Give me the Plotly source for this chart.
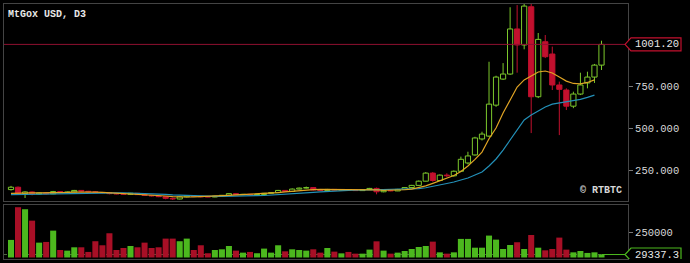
import plotly.graph_objects as go

# ---------------- data ----------------
idx = list(range(85))
opens = [138, 152, 114, 124, 112, 118, 113, 126, 121, 124,
         133, 128, 125, 121, 119, 114, 112, 110, 116, 108,
         103, 100, 96, 86, 82, 95, 101, 98, 95, 94,
         99, 104, 114, 108, 110, 106, 109, 116, 120, 133,
         127, 141, 147, 150, 136, 133, 139, 135, 138, 135,
         132, 138, 145, 125, 133, 130, 139, 150, 163, 188,
         236, 192, 224, 220, 247, 296, 344, 439, 456, 640,
         795, 825, 1093, 998, 1225, 690, 1017, 944, 760, 730,
         634, 706, 772, 807, 878]
highs = [160, 156, 128, 127, 122, 121, 130, 128, 126, 136,
         135, 130, 128, 124, 121, 117, 115, 118, 117, 111,
         106, 102, 98, 90, 98, 104, 103, 100, 97, 101,
         106, 116, 116, 112, 112, 110, 118, 122, 136, 135,
         145, 150, 156, 153, 138, 142, 141, 140, 139, 136,
         140, 148, 150, 136, 135, 142, 152, 166, 192, 242,
         242, 228, 235, 252, 334, 363, 452, 482, 898, 815,
         890, 1222, 1235, 1250, 1250, 1069, 1057, 988, 780, 740,
         720, 833, 839, 885, 1023]
lows = [132, 108, 88, 104, 108, 110, 111, 118, 119, 122,
        124, 122, 118, 116, 110, 110, 107, 108, 106, 100,
        97, 93, 80, 76, 80, 92, 96, 92, 93, 93,
        98, 103, 106, 107, 104, 105, 108, 115, 118, 124,
        126, 139, 145, 132, 131, 131, 133, 134, 133, 130,
        131, 137, 110, 122, 128, 129, 138, 149, 161, 186,
        185, 188, 212, 215, 242, 288, 340, 430, 450, 630,
        790, 820, 833, 972, 474, 682, 920, 730, 462, 611,
        622, 700, 740, 772, 849]
closes = [152, 114, 124, 112, 118, 113, 126, 121, 124, 133,
          128, 125, 121, 119, 114, 112, 110, 116, 108, 103,
          100, 96, 86, 82, 95, 101, 98, 95, 94, 99,
          104, 114, 108, 110, 106, 109, 116, 120, 133, 127,
          141, 147, 150, 136, 133, 139, 135, 138, 135, 132,
          138, 145, 125, 133, 130, 139, 150, 163, 188, 236,
          192, 224, 220, 247, 318, 338, 445, 468, 646, 807,
          825, 1093, 998, 1229, 690, 1031, 928, 760, 734, 634,
          706, 760, 807, 878, 1001.2]
volumes = [174000, 498000, 478000, 365000, 147000, 154000, 266000, 74000, 68000, 101000,
           101000, 55000, 161000, 121000, 240000, 74000, 94000, 114000, 101000, 147000,
           94000, 101000, 187000, 187000, 161000, 187000, 74000, 121000, 42000, 74000,
           81000, 114000, 68000, 48000, 55000, 42000, 88000, 48000, 121000, 61000,
           81000, 74000, 68000, 81000, 48000, 94000, 58000, 41000, 55000, 38000,
           38000, 78000, 160000, 68000, 38000, 48000, 64000, 84000, 104000, 114000,
           157000, 51000, 38000, 51000, 184000, 184000, 97000, 97000, 217000, 177000,
           84000, 124000, 151000, 84000, 223000, 97000, 71000, 84000, 197000, 78000,
           51000, 64000, 45000, 51000, 29337.3]
ma_fast = [116, 118, 119, 119, 118, 118, 119, 120, 121, 123,
           124, 124, 123, 122, 120, 117, 115, 113, 112, 110,
           107, 104, 100, 96, 94, 94, 95, 96, 97, 99,
           101, 104, 106, 108, 109, 111, 113, 116, 120, 124,
           128, 132, 136, 138, 139, 139, 138, 137, 137, 136,
           136, 137, 136, 134, 134, 134, 137, 141, 149, 160,
           175, 190, 205, 222, 245, 278, 318, 361, 440, 504,
           593, 670, 748, 790, 813, 837, 843, 831, 807, 783,
           769, 766, 775, 790, None]
ma_slow = [108, 109, 110, 111, 112, 113, 114, 115, 116, 117,
           118, 119, 120, 120, 120, 119, 119, 118, 117, 116,
           114, 112, 109, 106, 104, 102, 101, 100, 99, 98,
           98, 98, 99, 100, 101, 102, 103, 105, 107, 109,
           112, 115, 118, 121, 124, 127, 129, 131, 133, 134,
           135, 136, 137, 137, 137, 138, 139, 141, 144, 149,
           156, 165, 174, 183, 195, 207, 225, 243, 278, 320,
           373, 433, 498, 552, 581, 605, 629, 646, 653, 662,
           668, 674, 686, 700, None]
price_ticks = [250, 500, 750]
vol_ticks = [250000]
title_text = "MtGox USD, D3"
watermark_text = "© RTBTC"

# ---------------- styling ----------------
GREEN = "#7cc82c"
RED = "#c2102e"
VGREEN = "#4cb81e"
VRED = "#a80f26"
YEL = "#e0a424"
BLUE = "#2390b8"
BORDER = "#444444"
TXT = "#d8d8d8"
FONT = "Liberation Mono"

up = [c >= o for o, c in zip(opens, closes)]


def wicks(mask):
    xs, ys = [], []
    for i in idx:
        if mask[i]:
            top = max(opens[i], closes[i])
            bot = min(opens[i], closes[i])
            xs += [i, i, None, i, i, None]
            ys += [highs[i], top, None, bot, lows[i], None]
    return xs, ys


def bodies(mask):
    xs, bases, hs = [], [], []
    for i in idx:
        if mask[i]:
            xs.append(i)
            bases.append(min(opens[i], closes[i]))
            hs.append(max(abs(closes[i] - opens[i]), 1.5))
    return xs, bases, hs


fig = go.Figure()

gx, gy = wicks(up)
rx, ry = wicks([not u for u in up])
fig.add_trace(go.Scatter(x=gx, y=gy, mode="lines", line=dict(color=GREEN, width=1),
                         hoverinfo="skip", showlegend=False, xaxis="x", yaxis="y"))
fig.add_trace(go.Scatter(x=rx, y=ry, mode="lines", line=dict(color=RED, width=1),
                         hoverinfo="skip", showlegend=False, xaxis="x", yaxis="y"))

bx, bb, bh = bodies(up)
fig.add_trace(go.Bar(x=bx, y=bh, base=bb, width=0.74,
                     marker=dict(color="#000000", line=dict(color=GREEN, width=1)),
                     showlegend=False, xaxis="x", yaxis="y"))
bx, bb, bh = bodies([not u for u in up])
fig.add_trace(go.Bar(x=bx, y=bh, base=bb, width=0.74,
                     marker=dict(color=RED, line=dict(color=RED, width=1)),
                     showlegend=False, xaxis="x", yaxis="y"))

fig.add_trace(go.Scatter(x=idx, y=ma_slow, mode="lines", line=dict(color=BLUE, width=1.2),
                         showlegend=False, xaxis="x", yaxis="y"))
fig.add_trace(go.Scatter(x=idx, y=ma_fast, mode="lines", line=dict(color=YEL, width=1.2),
                         showlegend=False, xaxis="x", yaxis="y"))

vg_x = [i for i in idx if up[i]]
vr_x = [i for i in idx if not up[i]]
fig.add_trace(go.Bar(x=vg_x, y=[volumes[i] for i in vg_x], width=0.86,
                     marker=dict(color=VGREEN, line=dict(width=0)),
                     showlegend=False, xaxis="x2", yaxis="y2"))
fig.add_trace(go.Bar(x=vr_x, y=[volumes[i] for i in vr_x], width=0.86,
                     marker=dict(color=VRED, line=dict(width=0)),
                     showlegend=False, xaxis="x2", yaxis="y2"))

last_close = closes[-1]
last_vol = volumes[-1]
x_range = [-0.996, 87.77]

axis_common = dict(showgrid=False, zeroline=False, showline=True, mirror=True,
                   linecolor=BORDER, linewidth=1)

fig.update_layout(
    width=690, height=263,
    margin=dict(l=4, r=62, t=4, b=4),
    paper_bgcolor="#000000", plot_bgcolor="#000000",
    barmode="overlay",
    showlegend=False,
    xaxis=dict(domain=[0, 1], range=x_range, anchor="y", showticklabels=False,
               ticks="", **axis_common),
    yaxis=dict(domain=[0.2286, 1], range=[71.9, 1241.4], side="right", anchor="x",
               tickvals=price_ticks, tickformat=".3f", ticks="outside", ticklen=4,
               tickcolor="#777777", tickfont=dict(family=FONT, size=10.5, color=TXT),
               **axis_common),
    xaxis2=dict(domain=[0, 1], range=x_range, anchor="y2", matches="x",
                showticklabels=False, ticks="", **axis_common),
    yaxis2=dict(domain=[0, 0.2118], range=[-15000, 520000], side="right", anchor="x2",
                tickvals=vol_ticks, tickformat="d", ticks="outside", ticklen=4,
                tickcolor="#777777", tickfont=dict(family=FONT, size=10.5, color=TXT),
                **axis_common),
)

shapes = [
    # last price line
    dict(type="line", xref="paper", x0=0, x1=1, yref="y", y0=last_close, y1=last_close,
         line=dict(color="#8e1030", width=1), layer="above"),
    # last price box
    dict(type="path", xref="paper", xanchor=1, xsizemode="pixel",
         yref="y", yanchor=last_close, ysizemode="pixel",
         path="M -3,0 L 3,-6.5 L 53,-6.5 L 53,6.5 L 3,6.5 Z",
         line=dict(color=RED, width=1.2), fillcolor="#000000", layer="above"),
    # last volume dotted level
    dict(type="line", xref="paper", x0=0, x1=1, yref="y2", y0=last_vol, y1=last_vol,
         line=dict(color="#4f6a40", width=1, dash="dot"), layer="below"),
    # connector from last bar
    dict(type="line", xref="x2", x0=idx[-1], x1=x_range[1], yref="y2", y0=last_vol, y1=last_vol,
         line=dict(color=VGREEN, width=1), layer="above"),
    # last volume box
    dict(type="path", xref="paper", xanchor=1, xsizemode="pixel",
         yref="y2", yanchor=last_vol, ysizemode="pixel",
         path="M -3,0 L 3,-6.5 L 53,-6.5 L 53,6.5 L 3,6.5 Z",
         line=dict(color=VGREEN, width=1.2), fillcolor="#000000", layer="above"),
]
fig.update_layout(shapes=shapes)

annotations = [
    dict(xref="paper", x=1, xanchor="left", xshift=5, yref="y", y=last_close, yanchor="middle",
         text=f"{last_close:.2f}", showarrow=False,
         font=dict(family=FONT, size=10.5, color="#e8e8e8")),
    dict(xref="paper", x=1, xanchor="left", xshift=5, yref="y2", y=last_vol, yanchor="middle",
         text=f"{last_vol:.1f}", showarrow=False,
         font=dict(family=FONT, size=10.5, color="#e8e8e8")),
    dict(xref="paper", x=0, xanchor="left", xshift=2, yref="paper", y=1, yanchor="top", yshift=-3,
         text=f"<b>{title_text}</b>", showarrow=False,
         font=dict(family=FONT, size=10, color="#e8e8e8")),
    dict(xref="paper", x=1, xanchor="right", xshift=-4, yref="paper", y=0.2286, yanchor="bottom",
         yshift=3, text=f"<b>{watermark_text}</b>", showarrow=False,
         font=dict(family=FONT, size=10, color="#d8d8d8")),
]
fig.update_layout(annotations=annotations)

fig.write_html("out.html")
